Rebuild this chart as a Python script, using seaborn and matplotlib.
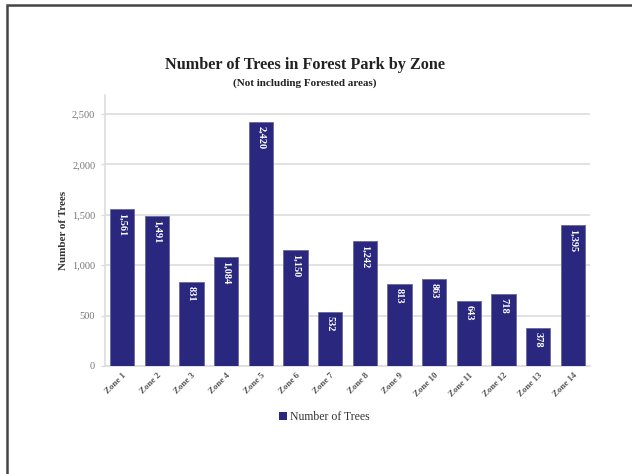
import matplotlib
matplotlib.use("Agg")
import matplotlib.pyplot as plt
import seaborn as sns
import pandas as pd
from matplotlib.patches import Rectangle
from matplotlib.ticker import FuncFormatter

zones = ["Zone 1", "Zone 2", "Zone 3", "Zone 4", "Zone 5", "Zone 6", "Zone 7",
         "Zone 8", "Zone 9", "Zone 10", "Zone 11", "Zone 12", "Zone 13", "Zone 14"]
trees = [1561, 1491, 831, 1084, 2420, 1150, 532, 1242, 813, 863, 643, 718, 378, 1395]
y_ticks = [0, 500, 1000, 1500, 2000, 2500]

sns.set_theme(style="white")
plt.rcParams["font.family"] = ["Liberation Serif", "DejaVu Serif"]

bar_color = "#2A287E"
df = pd.DataFrame({"Zone": zones, "Number of Trees": trees})

fig = plt.figure(figsize=(6.32, 4.74), dpi=100)
ax = fig.add_axes([0.166, 0.228, 0.768, 0.572])

sns.barplot(data=df, x="Zone", y="Number of Trees", color=bar_color, saturation=1,
            width=0.7, edgecolor="#6A689A", linewidth=0.6, ax=ax, zorder=3)

ax.set_ylim(0, 2690)
ax.set_xlim(-0.5, len(zones) - 0.5)
ax.set_yticks(y_ticks)
ax.yaxis.set_major_formatter(FuncFormatter(lambda v, p: f"{int(v):,}"))
ax.grid(axis="y", color="#E2E2E2", linewidth=1.4, zorder=0)
ax.grid(axis="x", visible=False)

for side in ["top", "right"]:
    ax.spines[side].set_visible(False)
for side in ["left", "bottom"]:
    ax.spines[side].set_color("#DDDDDD")
    ax.spines[side].set_linewidth(1.2)

ax.tick_params(axis="y", labelsize=7.5, colors="#777777", length=3, width=1,
               color="#DDDDDD", pad=4, left=True)
ax.tick_params(axis="x", labelsize=6.5, colors="#555555", length=0, pad=4)
for lbl in ax.get_xticklabels():
    lbl.set_rotation(45)
    lbl.set_ha("right")
    lbl.set_rotation_mode("anchor")
    lbl.set_fontweight("bold")

ax.set_xlabel("")
ax.set_ylabel("Number of Trees", fontsize=8, fontweight="bold", color="#333333", labelpad=3)

# value labels inside each bar, reading top to bottom
for i, v in enumerate(trees):
    ax.text(i, v - 40, f"{v:,}", rotation=-90, ha="center", va="top",
            color="white", fontsize=7.5, fontweight="bold", zorder=4)

fig.text(0.482, 0.862, "Number of Trees in Forest Park by Zone", ha="center", va="center",
         fontsize=11.7, fontweight="bold", color="#222222")
fig.text(0.482, 0.825, "(Not including Forested areas)", ha="center", va="center",
         fontsize=8, fontweight="bold", color="#222222")

# legend
handle = Rectangle((0, 0), 1, 1, facecolor=bar_color, edgecolor="none")
fig.legend([handle], ["Number of Trees"], loc="center", bbox_to_anchor=(0.513, 0.12),
           frameon=False, fontsize=8.5, handlelength=0.7, handleheight=0.7,
           handletextpad=0.2, labelcolor="#333333")

# chart frame
fig.patches.append(Rectangle((0.011, -0.05), 1.2, 0.989 + 0.05, transform=fig.transFigure,
                             fill=False, edgecolor="#444444", linewidth=1.8))

fig.savefig("out.png", dpi=100)
